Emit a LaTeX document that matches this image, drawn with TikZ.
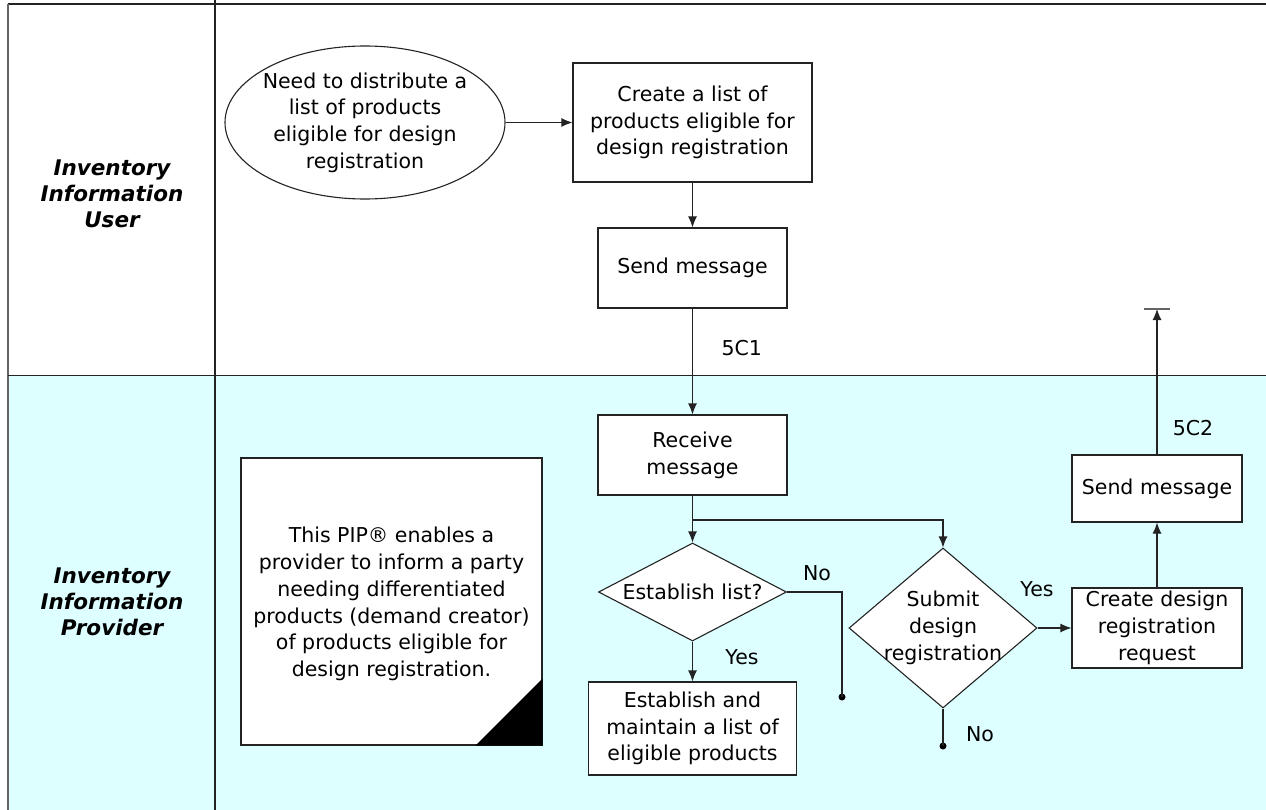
\documentclass[tikz,border=0pt]{standalone}
\usepackage{fontspec}
\setmainfont{DejaVu Sans}
\usetikzlibrary{arrows.meta,shapes.geometric}
\definecolor{lanecyan}{RGB}{221,255,255}
\definecolor{ln}{RGB}{35,35,35}
\definecolor{frame}{RGB}{100,100,100}
\begin{document}
\begin{tikzpicture}[x=1pt,y=-1pt,line width=1.1pt,
  every node/.style={font=\fontsize{20.5}{26.7}\selectfont,align=center,inner sep=0pt},
  box/.style={draw=ln,fill=white,line width=1.1pt},
  dia/.style={draw=ln,fill=white,diamond,line width=1.1pt},
  lane/.style={font=\fontsize{21.5}{26}\selectfont\bfseries\itshape},
  arr/.style={draw=ln,-{Latex[length=11pt,width=9pt]}},
  conn/.style={draw=ln},
  dot/.style={circle,fill=black,minimum size=7pt,inner sep=0pt}]
\useasboundingbox (0,0) rectangle (1266,810);
% lanes
\fill[lanecyan] (8,375.7) rectangle (1266,810);
\draw[ln] (8,4) -- (1266,4);
\draw[frame,line width=2pt] (8,4) -- (8,810);
\draw[ln] (215,0) -- (215,810);
\draw[ln] (8,375.7) -- (1266,375.7);
% lane labels
\node[lane] (laneuser) at (112,194) {Inventory\\Information\\User};
\node[lane] (laneprov) at (112,601.5) {Inventory\\Information\\Provider};
% top lane
\node[draw=ln,fill=white,ellipse,minimum width=280,minimum height=153] (need) at (365,122.5) {};
\node (needt) at (need.center) {Need to distribute a\\list of products\\eligible for design\\registration};
\node[box,minimum width=239,minimum height=119] (create) at (692.5,122.5) {Create a list of\\products eligible for\\design registration};
\node[box,minimum width=189,minimum height=80] (send1) at (692.5,268) {Send message};
% bottom lane
\node[box,minimum width=189,minimum height=80] (recv) at (692.5,455) {Receive\\message};
\node[dia,minimum width=188,minimum height=98] (est) at (692.5,592) {};
\node (estt) at (est.center) {Establish list?};
\node[box,minimum width=208,minimum height=93] (estbox) at (692.5,728.5) {Establish and\\maintain a list of\\eligible products};
\node[dia,minimum width=188,minimum height=160] (sub) at (943,628) {};
\node (subt) at (sub.center) {Submit\\design\\registration};
\node[box,minimum width=170,minimum height=80] (req) at (1157,628) {Create design\\registration\\request};
\node[box,minimum width=170,minimum height=67] (send2) at (1157,488.5) {Send message};
\node[dot] (d1) at (842,697) {};
\node[dot] (d2) at (943,746) {};
\coordinate (br) at (692.5,520);
\coordinate (top) at (1157,309);
\coordinate (barl) at (1144,309);
\coordinate (barr) at (1170,309);
% note
\node[draw=ln,fill=white,minimum width=301,minimum height=287] (note) at (391.5,601.5) {};
\fill[black] (note.south east) -- ([yshift=67pt]note.south east) -- ([xshift=-67pt]note.south east) -- cycle;
\node (notet) at (391.5,604) {This PIP® enables a\\provider to inform a party\\needing differentiated\\products (demand creator)\\of products eligible for\\design registration.};
% connectors
\draw[arr] (need.east) -- (create.west);
\draw[arr] (create.south) -- (send1.north);
\draw[arr] (send1.south) -- (recv.north);
\draw[conn] (recv.south) -- (br);
\draw[arr] (br) -- (est.north);
\draw[arr] (br) -| (sub.north);
\draw[conn] (est.east) -| (d1.center);
\draw[arr] (est.south) -- (estbox.north);
\draw[conn] (sub.south) -- (d2.center);
\draw[arr] (sub.east) -- (req.west);
\draw[arr] (req.north) -- (send2.south);
\draw[arr] (send2.north) -- (top);
\draw[frame] (barl) -- (barr);
% labels
\node (l5c1) at (741.7,348) {5C1};
\node (l5c2) at (1193,428) {5C2};
\node (lyes1) at (742,657) {Yes};
\node (lno1) at (817,573) {No};
\node (lyes2) at (1037,589) {Yes};
\node (lno2) at (980,734) {No};
\end{tikzpicture}
\end{document}
